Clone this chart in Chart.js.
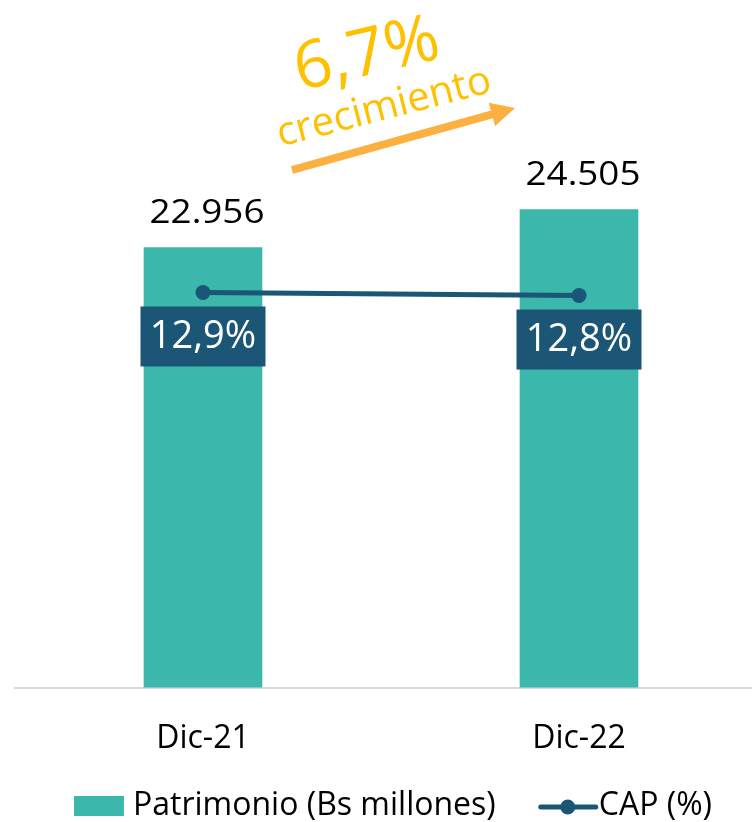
<!DOCTYPE html>
<html>
<head>
<meta charset="utf-8">
<script src="https://cdn.jsdelivr.net/npm/chart.js@4"></script>
<style>
  html, body { margin: 0; padding: 0; background: #fff; overflow: hidden; }
  #wrap { position: relative; width: 780px; height: 822px; }
</style>
</head>
<body>
<div id="wrap"><canvas id="chart"></canvas></div>
<script>
// datos
const periodos = ['Dic-21', 'Dic-22'];
const patrimonio = [22956, 24505];
const cap = [12.9, 12.8];
const crecimientoTxt = '6,7%';

const FONT = "'Open Sans', sans-serif";
const VERDE = '#3CB7AB';
const AZUL = '#1B5676';
const NARANJA = '#FBB040';
const AMARILLO = '#FFC000';

function fmtMiles(v) {
    return String(v).replace(/\B(?=(\d{3})+(?!\d))/g, '.');
}
function fmtPct(v) {
    return v.toFixed(1).replace('.', ',') + '%';
}

// etiquetas de valores, leyenda y flecha de crecimiento
const extras = {
    id: 'extras',
    afterDatasetsDraw(chart) {
        const ctx = chart.ctx;
        ctx.save();

        // valores sobre las barras
        const barras = chart.getDatasetMeta(0).data;
        ctx.fillStyle = '#000';
        ctx.font = `32px ${FONT}`;
        ctx.textAlign = 'center';
        ctx.textBaseline = 'alphabetic';
        barras.forEach((b, i) => {
            ctx.save();
            ctx.translate(b.x + 4, b.y - 25);
            ctx.scale(1.15, 1);
            ctx.fillText(fmtMiles(patrimonio[i]), 0, 0);
            ctx.restore();
        });

        // cajas con el CAP
        const puntos = chart.getDatasetMeta(1).data;
        puntos.forEach((p, i) => {
            const w = 125, h = 60;
            const top = p.y + 14;
            ctx.fillStyle = AZUL;
            ctx.fillRect(p.x - w / 2, top, w, h);
            ctx.fillStyle = '#fff';
            ctx.font = `38px ${FONT}`;
            ctx.textBaseline = 'middle';
            ctx.fillText(fmtPct(cap[i]), p.x, top + h / 2 + 1);
        });
        ctx.restore();
    },
    afterDraw(chart) {
        const ctx = chart.ctx;
        const area = chart.chartArea;
        ctx.save();

        // flecha
        const x0 = 292, y0 = 170, x1 = 515, y1 = 108;
        const ang = Math.atan2(y1 - y0, x1 - x0);
        const len = Math.hypot(x1 - x0, y1 - y0);
        ctx.translate(x0, y0);
        ctx.rotate(ang);
        ctx.fillStyle = NARANJA;
        ctx.fillRect(0, -4, len - 22, 8);
        ctx.beginPath();
        ctx.moveTo(len, 0);
        ctx.lineTo(len - 24, -12);
        ctx.lineTo(len - 24, 12);
        ctx.closePath();
        ctx.fill();
        ctx.restore();

        ctx.save();
        ctx.fillStyle = AMARILLO;
        ctx.textAlign = 'center';
        ctx.textBaseline = 'middle';
        ctx.translate(367, 56);
        ctx.rotate(-13 * Math.PI / 180);
        ctx.font = `66px ${FONT}`;
        ctx.fillText(crecimientoTxt, 0, 0);
        ctx.restore();

        ctx.save();
        ctx.fillStyle = AMARILLO;
        ctx.textAlign = 'center';
        ctx.textBaseline = 'middle';
        ctx.translate(384, 108);
        ctx.rotate(-14.5 * Math.PI / 180);
        ctx.font = `40px ${FONT}`;
        ctx.fillText('crecimiento', 0, 0);
        ctx.restore();

        // leyenda
        ctx.save();
        ctx.font = `32px ${FONT}`;
        ctx.textBaseline = 'middle';
        ctx.textAlign = 'left';
        const ds = chart.data.datasets;
        const t1 = ds[0].label, t2 = ds[1].label;
        const w1 = ctx.measureText(t1).width;
        const w2 = ctx.measureText(t2).width;
        const total = 50 + 9 + w1 + 45 + 55 + 3 + w2;
        let x = (area.left + area.right) / 2 + 2 - total / 2;
        const yc = 806;
        ctx.fillStyle = VERDE;
        ctx.fillRect(x, yc - 10, 50, 20);
        x += 59;
        ctx.fillStyle = '#000';
        ctx.fillText(t1, x, yc);
        x += w1 + 45;
        ctx.strokeStyle = AZUL;
        ctx.lineWidth = 5;
        ctx.lineCap = 'round';
        ctx.beginPath();
        ctx.moveTo(x, yc + 1);
        ctx.lineTo(x + 55, yc + 1);
        ctx.stroke();
        ctx.fillStyle = AZUL;
        ctx.beginPath();
        ctx.arc(x + 27, yc + 1, 7.5, 0, Math.PI * 2);
        ctx.fill();
        x += 58;
        ctx.fillStyle = '#000';
        ctx.fillText(t2, x, yc);
        ctx.restore();
    }
};

new Chart(document.getElementById('chart'), {
    type: 'bar',
    data: {
        labels: periodos,
        datasets: [
            {
                label: 'Patrimonio (Bs millones)',
                data: patrimonio,
                backgroundColor: VERDE,
                barThickness: 118,
                yAxisID: 'y',
                order: 2
            },
            {
                type: 'line',
                label: 'CAP (%)',
                data: cap,
                borderColor: AZUL,
                borderWidth: 5,
                pointRadius: 7.5,
                pointBackgroundColor: AZUL,
                pointBorderColor: AZUL,
                pointBorderWidth: 0,
                yAxisID: 'y1',
                order: 1
            }
        ]
    },
    options: {
        responsive: true,
        maintainAspectRatio: false,
        animation: false,
        layout: { padding: { left: 15, right: 13, top: 75, bottom: 32 } },
        plugins: {
            legend: { display: false },
            tooltip: { enabled: false }
        },
        scales: {
            x: {
                grid: { display: false, drawTicks: false },
                border: { display: true, color: '#D9D9D9', width: 2 },
                ticks: { color: '#000', font: { family: FONT, size: 32 }, padding: 32 }
            },
            y: { display: false, min: 5000, max: 30000 },
            y1: { display: false, min: 0, max: 20, position: 'right' }
        }
    },
    plugins: [extras]
});
</script>
</body>
</html>
